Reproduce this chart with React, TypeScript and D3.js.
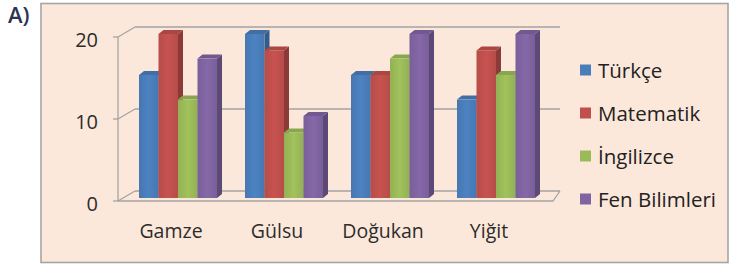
import React from "react";
import * as d3 from "d3";

const W = 732;
const H = 266;

const categories = ["Gamze", "Gülsu", "Doğukan", "Yiğit"];
const seriesNames = ["Türkçe", "Matematik", "İngilizce", "Fen Bilimleri"];
const turkce = [15, 20, 15, 12];
const matematik = [20, 18, 15, 18];
const ingilizce = [12, 8, 17, 15];
const fenBilimleri = [17, 10, 20, 20];
const seriesValues = [turkce, matematik, ingilizce, fenBilimleri];
const seriesColors = ["#4a7ebb", "#c0504d", "#9bbb59", "#8064a2"];
const yTicks = [0, 10, 20];

// 3D box geometry
const FRONT_X = 118;
const FLOOR_RIGHT = 553;
const DEPTH_DX = 17;
const DEPTH_DY = -10;
const BAR_LIFT = 3; // bars sit slightly behind the front edge
const BAR_DX = 5;
const BAR_DY = -4;

const FONT = "'Open Sans', Lato, sans-serif";
const AXIS_COLOR = "#a3a3a3";
const TEXT_COLOR = "#2c2c2c";

export default function App() {
  const x = d3
    .scaleBand<string>()
    .domain(categories)
    .range([124, 550])
    .paddingInner(0.264)
    .paddingOuter(0.1415);
  const xs = d3
    .scaleBand<string>()
    .domain(seriesNames)
    .range([0, x.bandwidth()]);
  const y = d3.scaleLinear().domain([0, 20]).range([201, 37]);

  const bars: JSX.Element[] = [];
  categories.forEach((cat, ci) => {
    seriesNames.forEach((s, si) => {
      const v = seriesValues[si][ci];
      const x0 = (x(cat) ?? 0) + (xs(s) ?? 0);
      const w = xs.bandwidth();
      const yTop = y(v) - BAR_LIFT;
      const yBot = y(0) - BAR_LIFT;
      const base = d3.color(seriesColors[si])!;
      const side = base.darker(0.9).formatHex();
      const top = base.darker(0.35).formatHex();
      bars.push(
        <g key={`${cat}-${s}`}>
          <path
            d={`M${x0 + w},${yTop} L${x0 + w + BAR_DX},${yTop + BAR_DY} L${x0 + w + BAR_DX},${yBot + BAR_DY} L${x0 + w},${yBot} Z`}
            fill={side}
          />
          <path
            d={`M${x0},${yTop} L${x0 + BAR_DX},${yTop + BAR_DY} L${x0 + w + BAR_DX},${yTop + BAR_DY} L${x0 + w},${yTop} Z`}
            fill={top}
          />
          <rect x={x0} y={yTop} width={w} height={yBot - yTop} fill={`url(#grad${si})`} />
        </g>
      );
    });
  });

  return (
    <div style={{ position: "fixed", left: 0, top: 0 }}>
      <svg width={W} height={H} viewBox={`0 0 ${W} ${H}`} style={{ display: "block", background: "#fff" }}>
        <defs>
          {seriesColors.map((c, i) => {
            const col = d3.color(c)!;
            return (
              <linearGradient key={i} id={`grad${i}`} x1="0" x2="1" y1="0" y2="0">
                <stop offset="0" stopColor={col.darker(0.15).formatHex()} />
                <stop offset="0.5" stopColor={col.brighter(0.1).formatHex()} />
                <stop offset="1" stopColor={col.darker(0.15).formatHex()} />
              </linearGradient>
            );
          })}
        </defs>

        <text x={8} y={23} fontFamily={FONT} fontSize={22} fontWeight={600} fill="#2b3552">
          A)
        </text>

        <rect x={41} y={3.5} width={687} height={259} fill="#fce8da" stroke="#a5a5a5" strokeWidth={1.6} />

        {/* back wall gridlines and depth connectors */}
        {yTicks.map((t) => (
          <g key={t} stroke={AXIS_COLOR} strokeWidth={1.3} fill="none">
            <line x1={FRONT_X + DEPTH_DX} x2={FLOOR_RIGHT + 7} y1={y(t) + DEPTH_DY} y2={y(t) + DEPTH_DY} />
            <line x1={FRONT_X} x2={FRONT_X + DEPTH_DX} y1={y(t)} y2={y(t) + DEPTH_DY} />
            <line x1={FRONT_X - 5} x2={FRONT_X} y1={y(t)} y2={y(t)} />
          </g>
        ))}
        {/* front vertical axis and floor front edge */}
        <line x1={FRONT_X} x2={FRONT_X} y1={y(20)} y2={y(0)} stroke={AXIS_COLOR} strokeWidth={1.3} />
        <path
          d={`M${FRONT_X},${y(0)} L${FLOOR_RIGHT},${y(0)} L${FLOOR_RIGHT + 7},${y(0) + DEPTH_DY}`}
          stroke={AXIS_COLOR}
          strokeWidth={1.3}
          fill="none"
        />

        {bars}

        {yTicks.map((t) => (
          <text
            key={t}
            x={98}
            y={y(t) + 2}
            textAnchor="end"
            dominantBaseline="central"
            fontFamily={FONT}
            fontSize={20}
            fontWeight={500}
            fill={TEXT_COLOR}
          >
            {t}
          </text>
        ))}

        {categories.map((c) => (
          <text
            key={c}
            x={(x(c) ?? 0) + x.bandwidth() / 2 - 7}
            y={238}
            textAnchor="middle"
            fontFamily={FONT}
            fontSize={19.5}
            fontWeight={500}
            fill={TEXT_COLOR}
          >
            {c}
          </text>
        ))}

        {seriesNames.map((s, i) => {
          const cy = 70 + i * 43;
          return (
            <g key={s}>
              <rect x={580} y={cy - 5.5} width={11} height={11} fill={seriesColors[i]} />
              <text
                x={598}
                y={cy}
                dominantBaseline="central"
                fontFamily={FONT}
                fontSize={20.5}
                fontWeight={500}
                fill="#222"
              >
                {s}
              </text>
            </g>
          );
        })}
      </svg>
    </div>
  );
}
